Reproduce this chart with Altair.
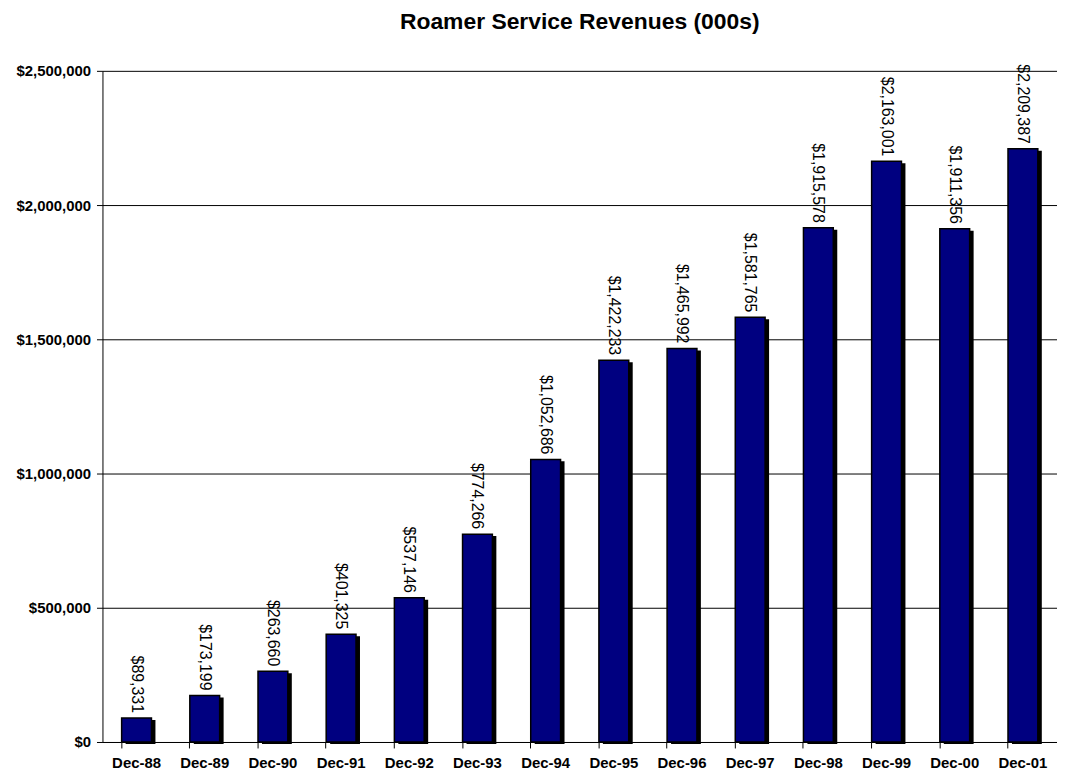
import altair as alt
import pandas as pd

categories = ["Dec-88", "Dec-89", "Dec-90", "Dec-91", "Dec-92", "Dec-93", "Dec-94",
              "Dec-95", "Dec-96", "Dec-97", "Dec-98", "Dec-99", "Dec-00", "Dec-01"]
revenues = [89331, 173199, 263660, 401325, 537146, 774266, 1052686,
            1422233, 1465992, 1581765, 1915578, 2163001, 1911356, 2209387]
y_ticks = [0, 500000, 1000000, 1500000, 2000000, 2500000]

df = pd.DataFrame({"period": categories, "revenue": revenues})
df["label"] = ["${:,}".format(v) for v in revenues]

x = alt.X("period:N", sort=categories, title=None,
          scale=alt.Scale(paddingInner=0.56, paddingOuter=0.28),
          axis=alt.Axis(labelAngle=0, labelFont="Liberation Sans", labelFontSize=15,
                        labelFontWeight="bold", labelColor="black", domainColor="black",
                        tickColor="black", tickSize=6, bandPosition=0, labelPadding=8))
y = alt.Y("revenue:Q", title=None,
          scale=alt.Scale(domain=[0, 2500000], nice=False),
          axis=alt.Axis(values=y_ticks, format="$,.0f", labelFont="Liberation Sans",
                        labelFontSize=15, labelFontWeight="bold", labelColor="black",
                        domainColor="black", tickColor="black", tickSize=6, labelPadding=6,
                        grid=True, gridColor="black", gridOpacity=1, gridWidth=1))

base = alt.Chart(df)

shadow = base.mark_bar(color="black", size=30, xOffset=4, yOffset=2).encode(x=x, y=y)
bars = base.mark_bar(color="#000080", stroke="black", strokeWidth=1.5, size=30).encode(x=x, y=y)
labels = base.mark_text(angle=90, align="right", baseline="middle", dx=-5,
                        font="Liberation Sans", fontSize=16, color="black").encode(
    x=x, y=y, text="label:N")

chart = alt.layer(shadow, bars, labels).properties(
    width=960, height=675,
    autosize=alt.AutoSizeParams(type="none"),
    title=alt.TitleParams("Roamer Service Revenues (000s)", font="Liberation Sans",
                          fontSize=23, fontWeight="bold", color="black", offset=30,
                          anchor="middle"),
    padding={"left": 95, "top": 61, "right": 0, "bottom": 30}
).configure_view(stroke=None).configure_axis(grid=False).configure_axisY(grid=True)

chart.save("out.html", embed_options={"renderer": "svg", "actions": False})
